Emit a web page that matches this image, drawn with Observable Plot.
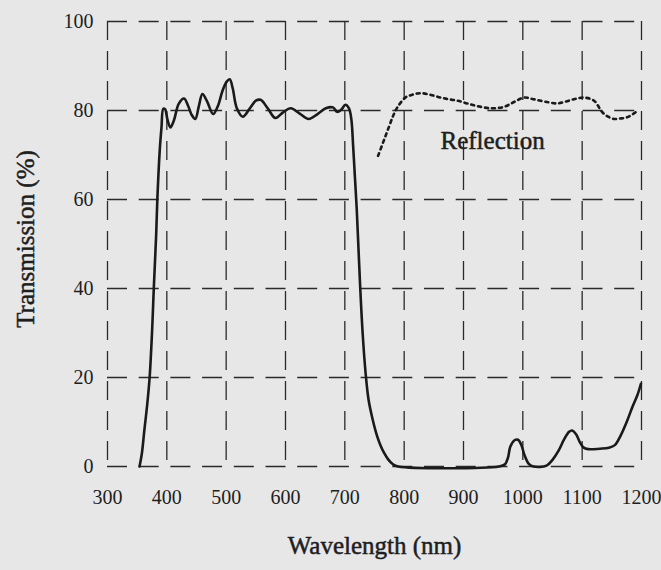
<!DOCTYPE html>
<html>
<head>
<meta charset="utf-8">
<script src="https://cdn.jsdelivr.net/npm/d3@7"></script>
<script src="https://cdn.jsdelivr.net/npm/@observablehq/plot@0.6"></script>
<style>
  html, body { margin: 0; padding: 0; background: #e7e7e7; }
  #chart svg { display: block; }
</style>
</head>
<body>
<div id="chart"></div>
<script>
// Transmission curve: wavelength (nm) and transmission (%)
const transWavelength = [354,358,362,367,371,375,378,382,384,388,391,394,397,401,406,412,420,429,436,442,448,454,460,468,478,486,494,501,506,511,518,528,540,550,558,570,583,596,609,624,639,654,668,680,687,694,701,707,711,714,717,720,723,726,730,735,740,747,754,760,766,773,781,790,960,970,975,979,986,992,997,1003,1010,1018,1040,1050,1060,1070,1078,1083,1090,1096,1102,1110,1130,1145,1155,1165,1175,1185,1193,1199];
const transValue = [0,3,8,14,20,30,40,52,60,71,76.2,80.4,80.3,78,76.2,77.8,81.5,82.7,81,79,78.1,81,83.7,82,79.2,81,84.5,86.5,87,85,80.5,78.6,80.5,82.2,82.4,80.5,78.3,79.6,80.5,79.3,78.1,79.2,80.5,80.7,79.7,80.2,81.3,80.5,78,72,65,58,49,40,30,21,15,10.5,7,4.8,3.1,1.6,0.5,0,0,0.5,2,4.5,5.9,6,5,2.5,0.6,0,0.2,1.5,3.5,6.2,7.8,8.1,7.2,5.5,4.3,3.9,4,4.2,4.8,7,10,13.5,16,18.6];

// Reflection curve (dotted)
const reflWavelength = [756,765,774,782,789,802,815,828,845,862,876,890,906,923,946,968,985,1002,1016,1030,1045,1058,1072,1088,1103,1120,1134,1144,1154,1164,1174,1182,1190];
const reflValue = [69.8,73,76.2,79,80.8,82.9,83.6,83.9,83.5,82.9,82.5,82.2,81.6,81,80.5,80.8,81.9,82.9,82.6,82.2,81.8,81.6,82,82.6,82.9,82.2,79.6,78.6,78.1,78.2,78.4,78.9,79.6];

// Tick labels and axis texts
const xTicks = [300,400,500,600,700,800,900,1000,1100,1200];
const yTicks = [0,20,40,60,80,100];
const xLabel = ["Wavelength (nm)"];
const yLabel = ["Transmission (%)"];
const annotation = [{wavelength: 949, value: 73.2, text: "Reflection"}];

const transmission = transWavelength.map((w, i) => ({wavelength: w, value: transValue[i]}));
const reflection = reflWavelength.map((w, i) => ({wavelength: w, value: reflValue[i]}));

const font = "'Liberation Serif', 'Times New Roman', serif";
const ink = "#1e1e1e";
const textStyle = {fill: ink, stroke: ink, strokeWidth: 0.5, fontFamily: font};

const chart = Plot.plot({
  width: 661,
  height: 570,
  marginLeft: 107,
  marginRight: 20,
  marginTop: 21,
  marginBottom: 104,
  style: {background: "#e7e7e7", fontFamily: font, color: ink},
  x: {domain: [300, 1200]},
  y: {domain: [0, 100]},
  marks: [
    Plot.gridX(xTicks, {stroke: "#2a2a2a", strokeOpacity: 1, strokeWidth: 1.3, strokeDasharray: "19,11"}),
    Plot.gridY(yTicks, {stroke: "#2a2a2a", strokeOpacity: 1, strokeWidth: 1.3, strokeDasharray: "20,11.7"}),
    Plot.axisX(xTicks, {tickSize: 0, tickPadding: 23, fontSize: 20, label: null, tickFormat: d => String(d), ...textStyle}),
    Plot.axisY(yTicks, {tickSize: 0, tickPadding: 14, fontSize: 20, label: null, tickFormat: d => String(d), ...textStyle}),
    Plot.line(transmission, {x: "wavelength", y: "value", stroke: "#1a1a1a", strokeWidth: 2.6, curve: "catmull-rom"}),
    Plot.line(reflection, {x: "wavelength", y: "value", stroke: "#1a1a1a", strokeWidth: 2.6, strokeDasharray: "3,4", curve: "catmull-rom"}),
    Plot.text(annotation, {x: "wavelength", y: "value", text: "text", fontSize: 25, ...textStyle}),
    Plot.text(xLabel, {frameAnchor: "bottom", dy: 87, fontSize: 25, textAnchor: "middle", ...textStyle}),
    Plot.text(yLabel, {frameAnchor: "left", rotate: -90, dx: -82, dy: -5, fontSize: 25, textAnchor: "middle", ...textStyle})
  ]
});
document.getElementById("chart").append(chart);
</script>
</body>
</html>
